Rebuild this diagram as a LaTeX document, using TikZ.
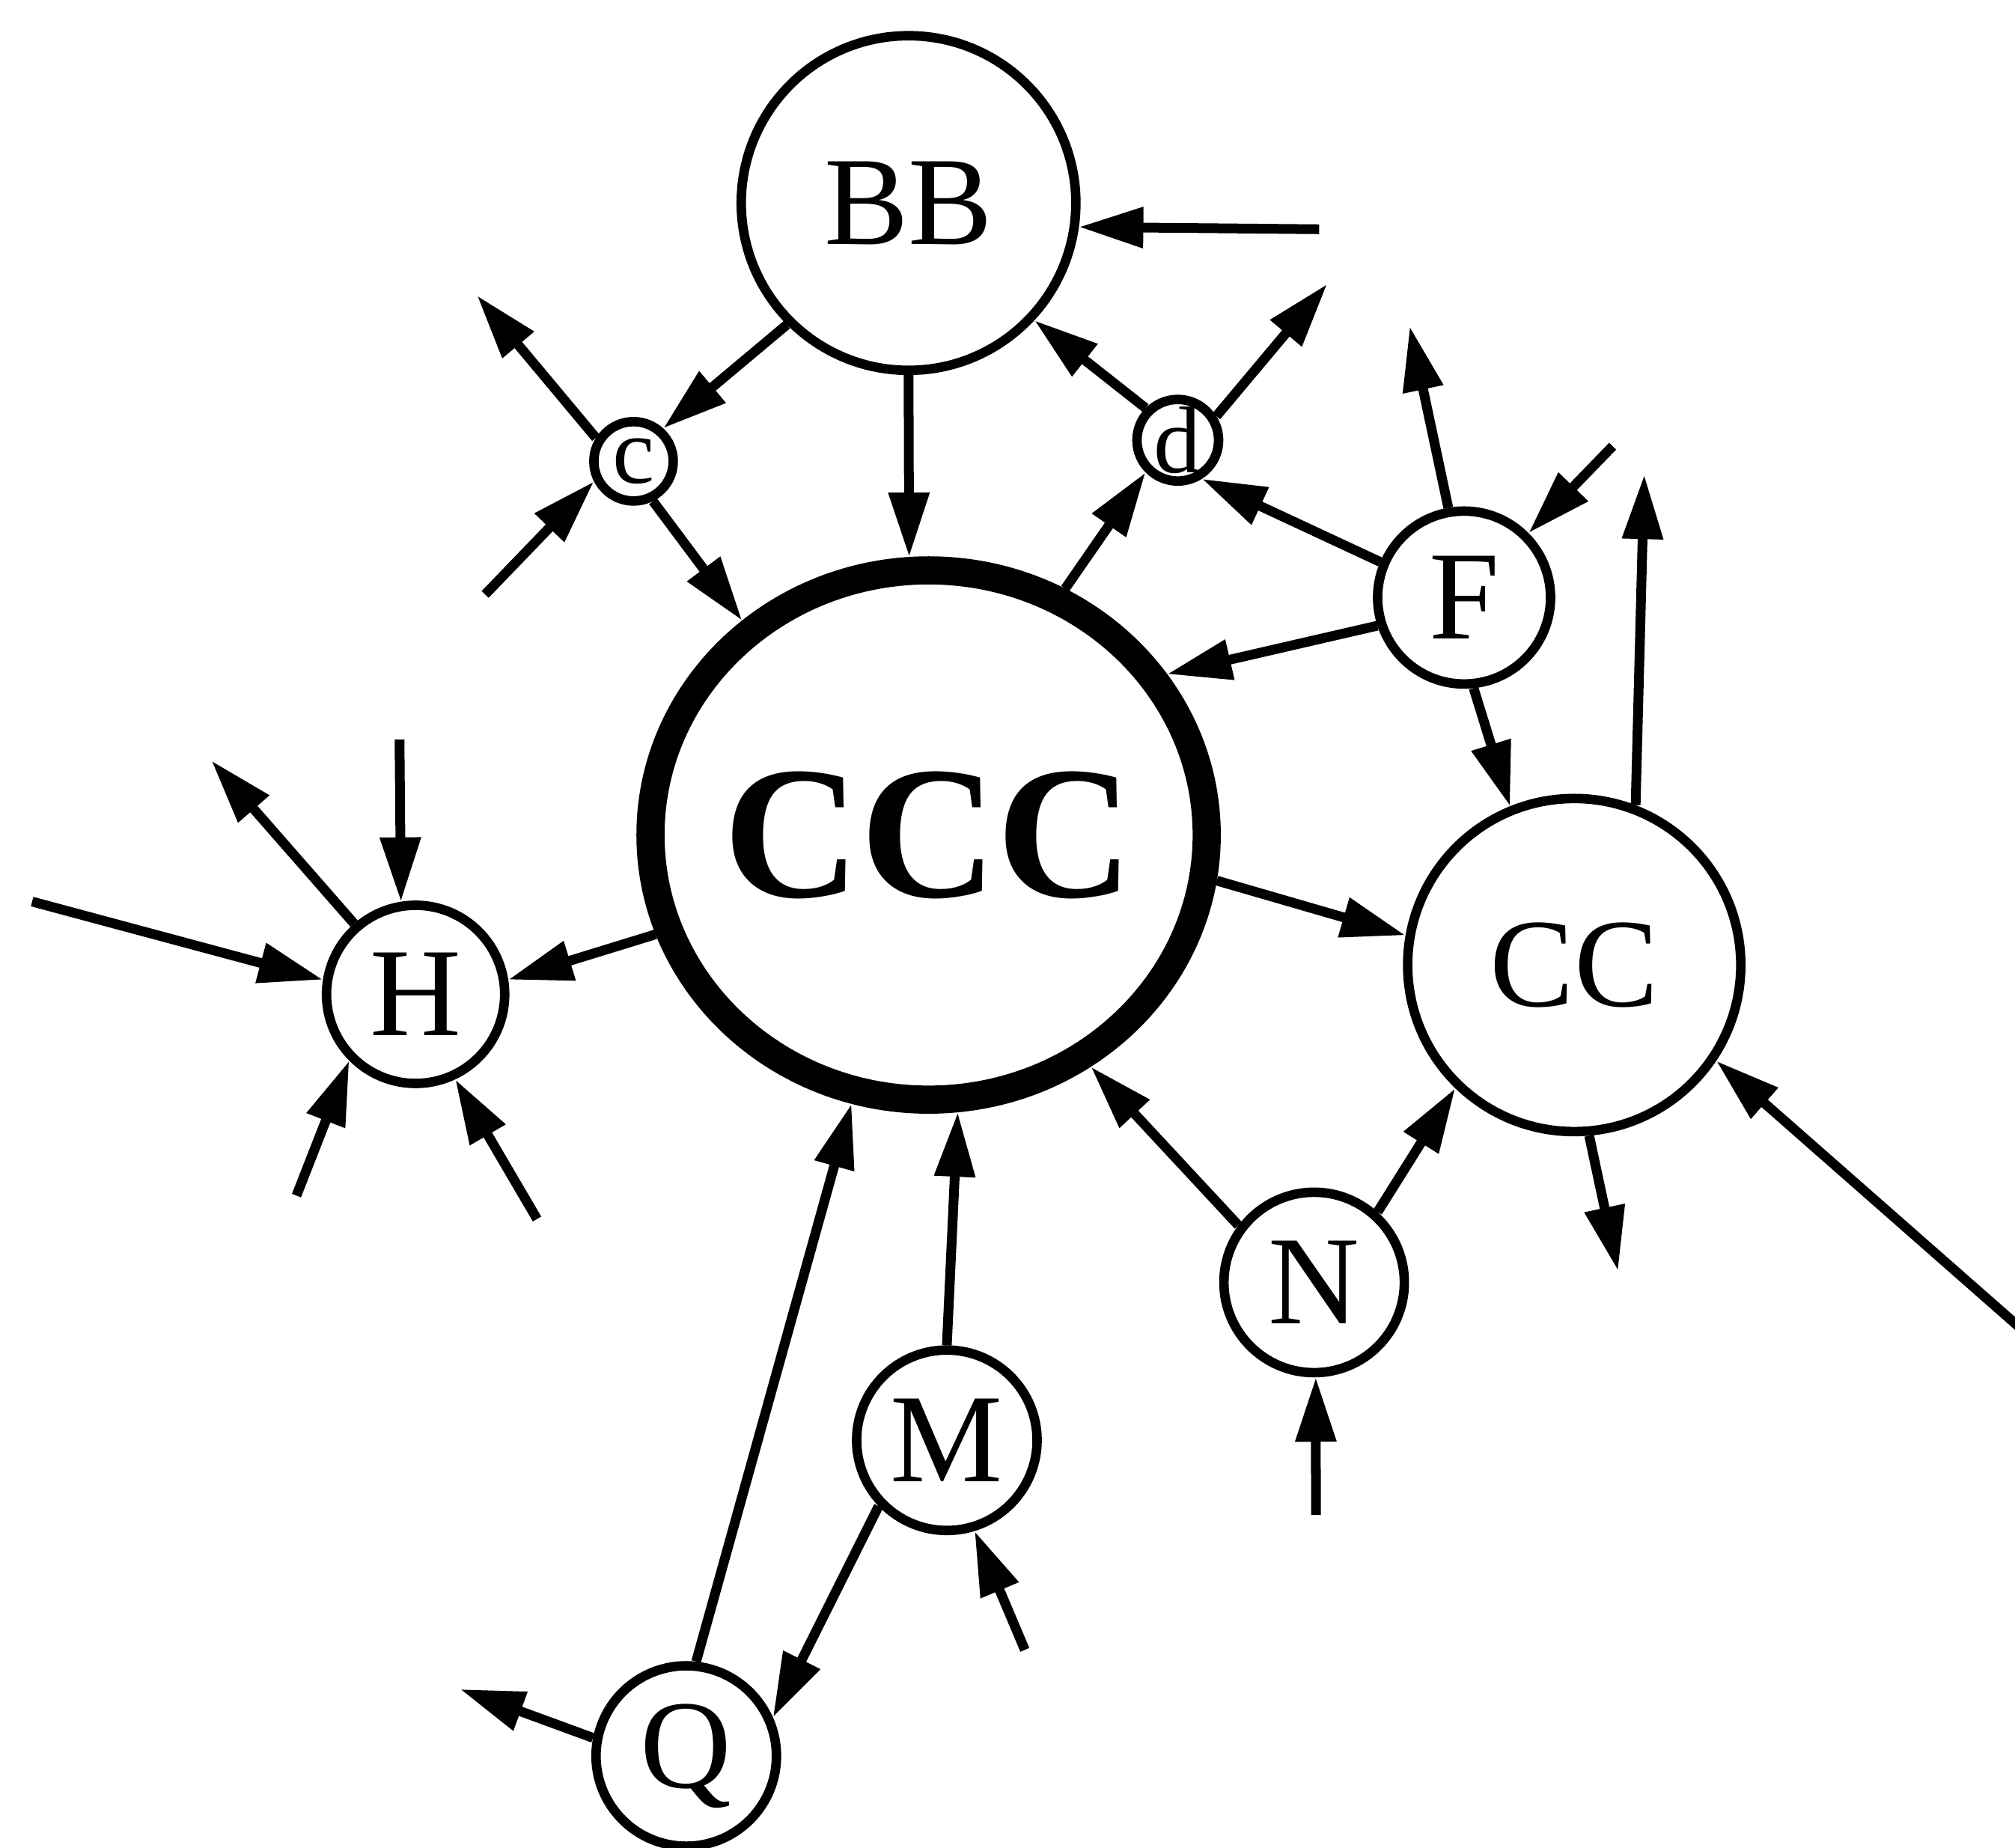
\documentclass[tikz,border=0pt]{standalone}
\usepackage{fontspec}
\setmainfont{Liberation Serif}
\usetikzlibrary{arrows.meta}
\usetikzlibrary{shapes.geometric}

\begin{document}
\begin{tikzpicture}[x=0.017168cm, y=-0.017168cm,
	every node/.style={inner sep=0pt},
	state/.style={circle, draw, line width=3.6pt, font=\fontsize{48}{52}\selectfont},
	small/.style={circle, draw, line width=3.6pt, minimum size=1.06cm, font=\fontsize{36}{40}\selectfont},
	link/.style={line width=3.7pt, -{Triangle[length=0.86cm, width=0.52cm]}}]

	\useasboundingbox (0,0) rectangle (1568,1438);

	% the big one in the middle
	\node (CCC) [ellipse, draw, line width=10.7pt, minimum width=7.43cm, minimum height=7.07cm] at (722.6,649.8) {};
	\node (ccctext) at (CCC) {\fontsize{72}{80}\selectfont\bfseries CCC};

	\foreach \n/\x/\y/\d in {BB/707/158/4.47, F/1139.3/465/2.31, CC/1225/751/4.45, H/323.4/773.8/2.38, N/1022.6/998/2.41, M/736.8/1120.8/2.41, Q/534/1366.5/2.41}
		\node (\n) [state, minimum size=\d cm] at (\x,\y) {\n};
	\foreach \n/\x/\y in {c/493/359, d/916.5/342.6}
		\node (\n) [small] at (\x,\y) {\n};

	% loose ends
	\coordinate (bbin) at (1026.5,178.4);
	\coordinate (dout) at (1032.8,221);
	\coordinate (cout) at (371.2,230);
	\coordinate (cin) at (377.5,462.6);
	\coordinate (fout) at (1097,254);
	\coordinate (fin) at (1254.9,347.2);
	\coordinate (ccout) at (1279.5,369.4);
	\coordinate (ccdown) at (1259.1,989);
	\coordinate (ccin) at (1580,1040.4);
	\coordinate (htop) at (310.9,575.5);
	\coordinate (hout) at (164.5,591.9);
	\coordinate (hleft) at (25,701.6);
	\coordinate (hlow) at (230.7,930.4);
	\coordinate (hright) at (417.9,948.6);
	\coordinate (nin) at (1024,1179);
	\coordinate (mlow) at (797.5,1283.9);
	\coordinate (qout) at (358,1314.5);

	% top part
	\draw [link] (bbin) -- (BB.-8.7);
	\draw [link] (BB.225.5) -- (c.48.5);
	\draw [link] (BB.south) -- (CCC.94.5);
	\draw [link] (d.135) -- (BB.-43.4);
	\draw [link] (d.32) -- (dout);
	\draw [link] (c.148) -- (cout);
	\draw [link] (cin) -- (c.207.7);
	\draw [link] (c.-64) -- (CCC.131.4);
	\draw [link] (CCC.61.3) -- (d.-135.9);

	% right part
	\draw [link] (F.157.4) -- (d.-58.9);
	\draw [link] (F.-162.3) -- (CCC.34.3);
	\draw [link] (F.100.7) -- (fout);
	\draw [link] (fin) -- (F.45.7);
	\draw [link] (F.-84.3) -- (CC.112.2);
	\draw [link] (CC.69.5) -- (ccout);
	\draw [link] (CCC.-9.7) -- (CC.170.3);
	\draw [link] (N.48.2) -- (CC.-134.2);
	\draw [link] (CC.-85.4) -- (ccdown);
	\draw [link] (ccin) -- (CC.-34.3);

	% left part
	\draw [link] (CCC.-160.4) -- (H.9.7);
	\draw [link] (htop) -- (H.99.7);
	\draw [link] (H.131.4) -- (hout);
	\draw [link] (hleft) -- (H.171.5);
	\draw [link] (hlow) -- (H.-135.8);
	\draw [link] (hright) -- (H.-65.1);

	% bottom part
	\draw [link] (N.143.6) -- (CCC.-55.5);
	\draw [link] (nin) -- (N.-89);
	\draw [link] (M.north) -- (CCC.-84.3);
	\draw [link] (mlow) -- (M.-73.8);
	\draw [link] (M.-136.4) -- (Q.24.7);
	\draw [link] (Q.84) -- (CCC.-106);
	\draw [link] (Q.169.6) -- (qout);

\end{tikzpicture}
\end{document}
